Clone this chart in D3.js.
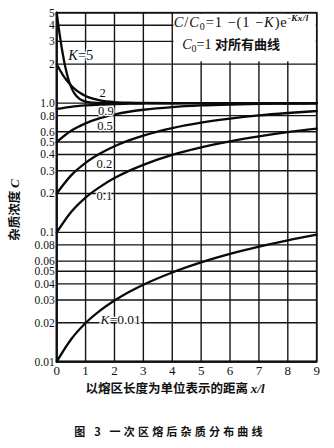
<!DOCTYPE html>
<html>
<head>
<meta charset="utf-8">
<script src="https://cdn.jsdelivr.net/npm/d3@7/dist/d3.min.js"></script>
<style>
  html, body { margin: 0; padding: 0; background: #fff; }
  svg { display: block; }
  .num { font-family: "Liberation Serif", "DejaVu Serif", serif; fill: #111; }
  .cjk { font-family: "Noto Sans CJK SC", sans-serif; fill: #111; }
</style>
</head>
<body>
<svg id="chart" width="334" height="448"></svg>
<script>
// Distances along the bar, in zone lengths x/l
const xSteep = [0, 0.05, 0.1, 0.15, 0.2, 0.3, 0.4, 0.5, 0.6, 0.8, 1, 1.25, 1.5, 2, 2.5, 3, 4, 5, 6, 7, 8, 9];
const xGentle = [0, 0.5, 1, 1.5, 2, 2.5, 3, 4, 5, 6, 7, 8, 9];

// Impurity concentration C for each distribution coefficient K
const cK5   = [5, 4.115, 3.426, 2.890, 2.472, 1.892, 1.541, 1.328, 1.199, 1.073, 1.027, 1.008, 1.002, 1.0, 1.0, 1.0, 1.0, 1.0, 1.0, 1.0, 1.0, 1.0];
const cK2   = [2, 1.905, 1.819, 1.741, 1.670, 1.549, 1.449, 1.368, 1.301, 1.202, 1.135, 1.082, 1.050, 1.018, 1.007, 1.002, 1.0, 1.0, 1.0, 1.0, 1.0, 1.0];
const cK09  = [0.900, 0.936, 0.959, 0.974, 0.983, 0.989, 0.993, 0.997, 0.999, 1.0, 1.0, 1.0, 1.0];
const cK05  = [0.5, 0.611, 0.697, 0.764, 0.816, 0.857, 0.888, 0.932, 0.959, 0.975, 0.985, 0.991, 0.994];
const cK02  = [0.2, 0.276, 0.345, 0.407, 0.464, 0.515, 0.561, 0.641, 0.706, 0.759, 0.803, 0.838, 0.868];
const cK01  = [0.1, 0.144, 0.186, 0.225, 0.263, 0.299, 0.333, 0.397, 0.454, 0.506, 0.553, 0.596, 0.634];
const cK001 = [0.01, 0.0149, 0.0199, 0.0248, 0.0297, 0.0346, 0.0394, 0.0490, 0.0586, 0.0681, 0.0775, 0.0868, 0.0960];

// Axis ticks
const xTicks = [0, 1, 2, 3, 4, 5, 6, 7, 8, 9];
const yTicks = [5, 4, 3, 2, 1, 0.8, 0.6, 0.5, 0.4, 0.3, 0.2, 0.1, 0.08, 0.06, 0.05, 0.04, 0.03, 0.02, 0.01];
const yTickLabels = ["5", "4", "3", "2", "1.0", "0.8", "0.6", "0.5", "0.4", "0.3", "0.2", "0.1", "0.08", "0.06", "0.05", "0.04", "0.03", "0.02", "0.01"];

// Curve labels: text and the (x, C) point of their baseline start
const curveLabels = [
  { k: "K", v: "=5",    x: 0.40, c: 2.14,   size: 14.5 },
  { k: "",  v: "2",     x: 1.48, c: 1.107,  size: 12.5 },
  { k: "",  v: "0.9",   x: 1.43, c: 0.803,  size: 12.5 },
  { k: "",  v: "0.5",   x: 1.40, c: 0.615,  size: 12.5 },
  { k: "",  v: "0.2",   x: 1.38, c: 0.313,  size: 12.5 },
  { k: "",  v: "0.1",   x: 1.38, c: 0.177,  size: 12.5 },
  { k: "K", v: "=0.01", x: 1.52, c: 0.0194, size: 13.5 }
];

const svg = d3.select("#chart");
const x = d3.scaleLinear().domain([0, 9]).range([56.7, 316.7]);
const y = d3.scaleLog().domain([0.01, 5]).range([361.7, 12.7]);

// Grid
const grid = svg.append("g").attr("stroke", "#151515").attr("stroke-width", 1.4);
grid.selectAll("line.v").data(xTicks).join("line")
  .attr("x1", d => x(d)).attr("x2", d => x(d))
  .attr("y1", y(5)).attr("y2", y(0.01));
grid.selectAll("line.h").data(yTicks).join("line")
  .attr("x1", x(0)).attr("x2", x(9))
  .attr("y1", d => y(d)).attr("y2", d => y(d));

// Frame
svg.append("rect")
  .attr("x", x(0)).attr("y", y(5))
  .attr("width", x(9) - x(0)).attr("height", y(0.01) - y(5))
  .attr("fill", "none").attr("stroke", "#111").attr("stroke-width", 1.7);
svg.append("line")
  .attr("x1", x(0)).attr("x2", x(0)).attr("y1", y(5)).attr("y2", y(0.01))
  .attr("stroke", "#111").attr("stroke-width", 2.2);
svg.append("line")
  .attr("x1", x(0)).attr("x2", x(9)).attr("y1", y(0.01)).attr("y2", y(0.01))
  .attr("stroke", "#111").attr("stroke-width", 2.2);

// Formula panel in the upper right
svg.append("rect")
  .attr("x", x(4) + 1.2).attr("y", y(5) + 1.2)
  .attr("width", x(9) - x(4) - 2.2).attr("height", y(2) - y(5) - 4)
  .attr("fill", "#fff");

// Curves
const line = d3.line().x(d => x(d[0])).y(d => y(d[1])).curve(d3.curveMonotoneX);
const series = [
  [xSteep, cK5], [xSteep, cK2], [xGentle, cK09], [xGentle, cK05],
  [xGentle, cK02], [xGentle, cK01], [xGentle, cK001]
];
svg.append("g").selectAll("path").data(series).join("path")
  .attr("d", s => line(s[0].map((xv, i) => [xv, s[1][i]])))
  .attr("fill", "none").attr("stroke", "#0a0a0a").attr("stroke-width", 2.3)
  .attr("stroke-linecap", "round");

// Curve labels with a white halo
const lbl = svg.append("g").selectAll("text").data(curveLabels).join("text")
  .attr("class", "num")
  .attr("x", d => x(d.x)).attr("y", d => y(d.c))
  .attr("font-size", d => d.size)
  .attr("stroke", "#fff").attr("stroke-width", 2.5).attr("paint-order", "stroke");
lbl.append("tspan").attr("font-style", "italic").text(d => d.k);
lbl.append("tspan").text(d => d.v);

// Y tick labels
svg.append("g").selectAll("text").data(yTicks).join("text")
  .attr("class", "num")
  .attr("x", x(0) - 2).attr("y", d => y(d)).attr("dy", "0.34em")
  .attr("text-anchor", "end").attr("font-size", 11.5)
  .text((d, i) => yTickLabels[i]);

// X tick labels
svg.append("g").selectAll("text").data(xTicks).join("text")
  .attr("class", "num")
  .attr("x", d => x(d)).attr("y", 375)
  .attr("text-anchor", "middle").attr("font-size", 13)
  .text(d => d);

// Axis titles
const xt = svg.append("text").attr("class", "cjk")
  .attr("x", 175).attr("y", 393).attr("text-anchor", "middle")
  .attr("font-size", 12.5).attr("font-weight", "bold");
xt.append("tspan").text("以熔区长度为单位表示的距离 ");
xt.append("tspan").attr("class", "num").attr("font-style", "italic").attr("font-size", 13).text("x/l");

const yt = svg.append("text").attr("class", "cjk")
  .attr("transform", "translate(19,210) rotate(-90)")
  .attr("text-anchor", "middle").attr("font-size", 12.5).attr("font-weight", "bold");
yt.append("tspan").text("杂质浓度 ");
yt.append("tspan").attr("class", "num").attr("font-style", "italic").attr("font-size", 13).text("C");

// Formula
const f = svg.append("text").attr("class", "num")
  .attr("x", x(4) + 1.5).attr("y", 27).attr("font-size", 14.5).attr("letter-spacing", 0.9);
f.append("tspan").attr("font-style", "italic").text("C");
f.append("tspan").text("/");
f.append("tspan").attr("font-style", "italic").text("C");
f.append("tspan").attr("font-size", 10).attr("dy", 3).text("0");
f.append("tspan").attr("dy", -3).text("=1 −(1 −");
f.append("tspan").attr("font-style", "italic").text("K");
f.append("tspan").text(")e");
f.append("tspan").attr("font-size", 9).attr("font-style", "italic").attr("font-weight", "bold").attr("letter-spacing", 0.5).attr("dy", -6).text("-Kx/l");

const f2 = svg.append("text").attr("class", "cjk").attr("x", x(4) + 10).attr("y", 49).attr("font-size", 13);
f2.append("tspan").attr("class", "num").attr("font-style", "italic").attr("font-size", 14).text("C");
f2.append("tspan").attr("class", "num").attr("font-size", 10).attr("dy", 3).text("0");
f2.append("tspan").attr("class", "num").attr("font-size", 14).attr("dy", -3).text("=1 ");
f2.append("tspan").attr("font-weight", "bold").text("对所有曲线");

// Figure caption
const cap = svg.append("text").attr("class", "cjk")
  .attr("x", 170).attr("y", 436).attr("text-anchor", "middle")
  .attr("font-size", 11).attr("font-weight", "bold").attr("letter-spacing", 3.2);
cap.append("tspan").text("图 3  一次区熔后杂质分布曲线");
</script>
</body>
</html>
